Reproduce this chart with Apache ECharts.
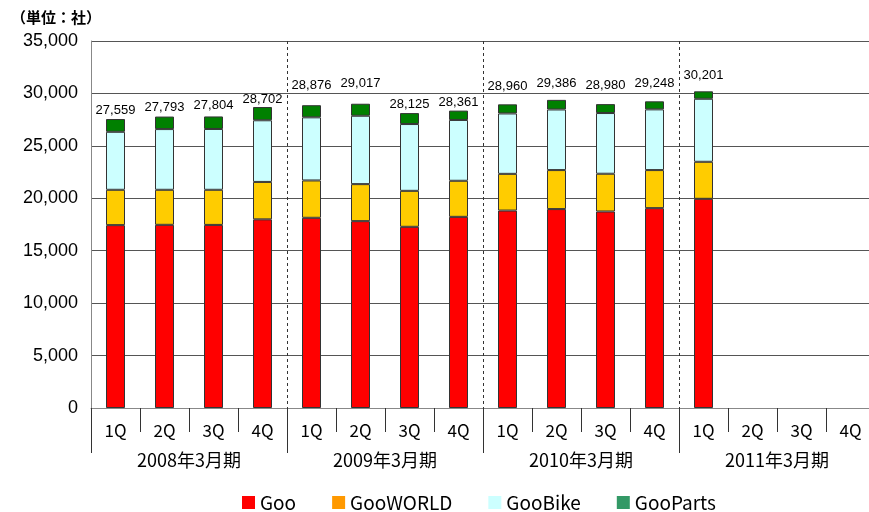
<!DOCTYPE html>
<html>
<head>
<meta charset="utf-8">
<script src="https://cdn.jsdelivr.net/npm/echarts@6/dist/echarts.min.js"></script>
<style>
html,body{margin:0;padding:0;background:#fff;overflow:hidden;}
#main{width:880px;height:512px;}
</style>
</head>
<body>
<div id="main"></div>
<script>
const quarters = ['1Q','2Q','3Q','4Q','1Q','2Q','3Q','4Q','1Q','2Q','3Q','4Q','1Q','2Q','3Q','4Q'];
const years = ['2008年3月期','2009年3月期','2010年3月期','2011年3月期'];
const seriesNames = ['Goo','GooWORLD','GooBike','GooParts'];
const goo      = [17440,17470,17460,17990,18140,17820,17280,18230,18830,18970,18740,19060,19950,null,null,null];
const gooWorld = [3370,3340,3350,3570,3560,3530,3430,3440,3500,3720,3600,3630,3530,null,null,null];
const gooBike  = [5530,5790,5800,5880,6020,6520,6370,5800,5760,5780,5790,5790,6010,null,null,null];
const gooParts = [1219,1193,1194,1262,1156,1147,1045,891,870,916,850,768,711,null,null,null];
const totals   = [27559,27793,27804,28702,28876,29017,28125,28361,28960,29386,28980,29248,30201,null,null,null];
const yTicks   = [0,5000,10000,15000,20000,25000,30000,35000];

// styling only
const labelLift = [2,3,5,1,13,14,2,2,11,10,12,11,9,0,0,0];
const barColors = ['#FF0000','#FFCC00','#CCFFFF','#008000'];
const legendColors = ['#FF0000','#FF9900','#CCFFFF','#339966'];

const fmt = v => String(v).replace(/\B(?=(\d{3})+(?!\d))/g, ',');
const cjk = '"Noto Sans CJK JP", "Noto Sans", sans-serif';

const chart = echarts.init(document.getElementById('main'), null, {renderer:'canvas'});
const valuesList = [goo, gooWorld, gooBike, gooParts];

const series = valuesList.map((vals, si) => ({
  name: seriesNames[si],
  type: 'bar',
  stack: 'total',
  barWidth: 19,
  xAxisIndex: 0,
  itemStyle: {color: barColors[si], borderColor: '#333', borderWidth: 1},
  data: vals.map((v, i) => {
    if (si === 3 && totals[i] != null) {
      return {value: v, label: {show: true, position: 'top', distance: labelLift[i],
        formatter: () => fmt(totals[i])}};
    }
    return v;
  }),
  label: {show: false, color: '#000', fontSize: 13, fontFamily: '"Liberation Sans", Arial, sans-serif'},
  emphasis: {disabled: true},
  animation: false
}));

chart.setOption({
  animation: false,
  title: {
    text: '（単位：社）', left: 6, top: 5,
    textStyle: {fontSize: 15, fontWeight: 'bold', color: '#000', fontFamily: cjk}
  },
  legend: {
    left: 237, top: 488,
    itemWidth: 13, itemHeight: 13, itemGap: 36, icon: 'rect',
    textStyle: {fontSize: 19, color: '#000', fontFamily: cjk},
    data: seriesNames.map((n, i) => ({name: n, itemStyle: {color: legendColors[i], borderWidth: 0}}))
  },
  grid: {left: 91, top: 41, width: 784, height: 367, containLabel: false, outerBoundsMode: 'none'},
  xAxis: [
    {
      type: 'category', data: quarters, position: 'bottom', gridIndex: 0,
      axisLine: {show: true, lineStyle: {color: '#888', width: 1}},
      axisTick: {show: true, interval: 0, length: 24, lineStyle: {color: '#333'}},
      axisLabel: {interval: 0, margin: 14, fontSize: 17, color: '#000', fontFamily: cjk},
      splitLine: {show: false}
    },
    {
      type: 'category', data: years, position: 'bottom', gridIndex: 0,
      axisLine: {show: false},
      axisTick: {show: true, interval: 0, length: 45, lineStyle: {color: '#333'}},
      axisLabel: {interval: 0, margin: 43, fontSize: 18, color: '#000', fontFamily: cjk},
      splitLine: {show: true, interval: 0, lineStyle: {color: '#333', type: [3, 3], width: 1}}
    }
  ],
  yAxis: {
    type: 'value', min: yTicks[0], max: yTicks[yTicks.length - 1], interval: yTicks[1] - yTicks[0],
    axisLine: {show: true, lineStyle: {color: '#888'}},
    axisTick: {show: false},
    axisLabel: {margin: 13, fontSize: 18, color: '#000', fontFamily: '"Liberation Sans", Arial, sans-serif', formatter: v => fmt(v)},
    splitLine: {show: true, lineStyle: {color: '#555', width: 1}}
  },
  series: series
});
</script>
</body>
</html>
